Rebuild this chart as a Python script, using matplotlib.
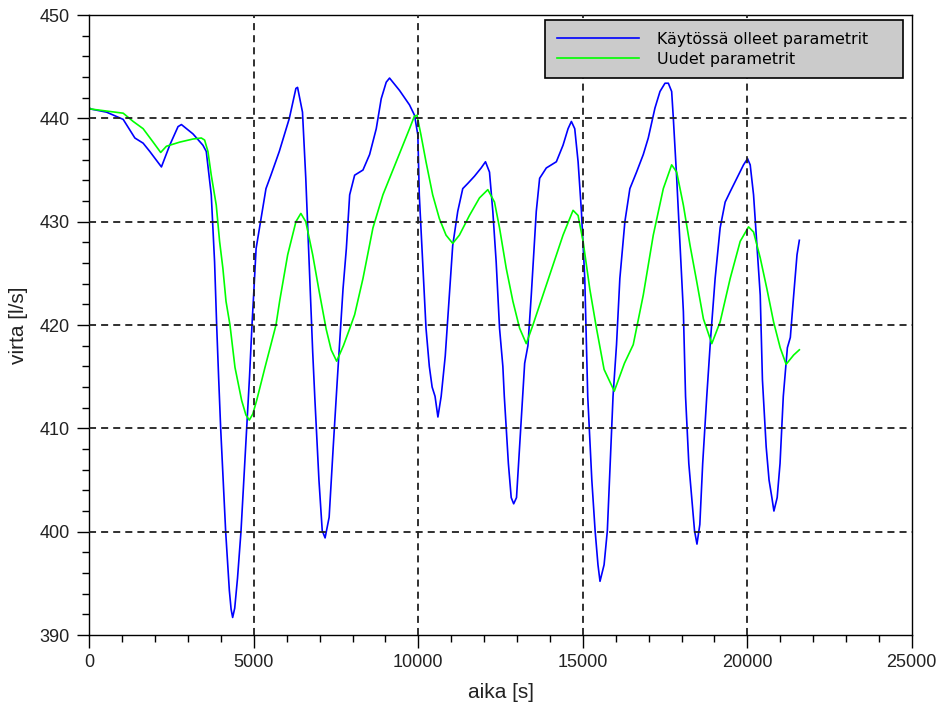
import numpy as np
import matplotlib
matplotlib.use('Agg')
import matplotlib.pyplot as plt
from matplotlib.ticker import MultipleLocator

# virtaus ajan funktiona, käytössä olleet parametrit (sininen)
aika_vanha = [0, 50, 525, 1030, 1385, 1636, 1838, 2192, 2444, 2697, 2800, 3150, 3454, 3555,
              3707, 3808, 3871, 3930, 3993, 4070, 4145, 4257, 4310, 4357, 4420, 4505, 4610,
              4700, 4783, 4870, 4945, 4985, 5070, 5220, 5370, 5520, 5775, 6080, 6280, 6330,
              6480, 6580, 6680, 6790, 6857, 6980, 7080, 7167, 7290, 7414, 7538, 7712, 7813,
              7914, 8065, 8318, 8520, 8722, 8873, 9025, 9126, 9430, 9733, 9885, 9986, 10030,
              10132, 10234, 10335, 10420, 10509, 10596, 10695, 10819, 10945, 11046, 11199,
              11351, 11504, 11707, 11910, 12042, 12164, 12265, 12367, 12469, 12570, 12614,
              12738, 12824, 12899, 12985, 13109, 13233, 13332, 13434, 13586, 13688, 13891,
              14196, 14399, 14552, 14653, 14755, 14857, 14958, 15060, 15150, 15274, 15374,
              15461, 15523, 15647, 15746, 15833, 15919, 16025, 16126, 16279, 16431, 16634,
              16838, 16990, 17193, 17346, 17498, 17600, 17701, 17752, 17854, 17955, 18057,
              18123, 18222, 18309, 18396, 18470, 18557, 18644, 18768, 18880, 19022, 19174,
              19327, 19479, 19682, 19885, 20007, 20088, 20190, 20291, 20393, 20460, 20574,
              20661, 20747, 20809, 20908, 20995, 21094, 21218, 21308, 21410, 21511, 21582]
virta_vanha = [441.0, 440.9, 440.6, 439.9, 438.1, 437.6, 436.8, 435.3, 437.4, 439.2, 439.4,
               438.5, 437.4, 436.8, 432.6, 426.1, 420.0, 415.0, 410.0, 405.0, 400.0, 394.3,
               392.5, 391.7, 392.6, 395.5, 400.0, 405.2, 410.0, 415.0, 420.0, 422.3, 427.4,
               430.3, 433.2, 434.5, 436.8, 440.0, 442.9, 443.0, 440.6, 434.2, 426.1, 417.4,
               412.8, 405.0, 400.1, 399.4, 401.4, 408.2, 414.7, 423.5, 427.4, 432.6, 434.5,
               435.0, 436.5, 439.0, 441.9, 443.5, 443.9, 442.7, 441.3, 440.3, 438.4, 432.6,
               426.1, 419.7, 416.0, 414.0, 413.1, 411.1, 413.1, 417.0, 422.9, 427.7, 431.0,
               433.2, 433.7, 434.4, 435.2, 435.8, 434.8, 431.0, 426.1, 419.7, 416.0, 413.1,
               406.6, 403.3, 402.7, 403.3, 409.8, 416.3, 418.0, 422.9, 431.0, 434.2, 435.2,
               435.8, 437.4, 439.0, 439.7, 439.0, 435.8, 431.0, 424.5, 413.1, 405.0, 400.1,
               396.8, 395.2, 396.8, 400.1, 406.6, 413.1, 418.1, 424.5, 430.0, 433.2, 434.8,
               436.5, 438.1, 441.0, 442.6, 443.4, 443.4, 442.6, 440.0, 434.2, 427.7, 421.3,
               413.1, 406.6, 403.3, 400.1, 398.8, 400.7, 406.6, 413.1, 418.5, 424.5, 429.4,
               431.9, 432.9, 434.2, 435.5, 436.1, 435.5, 432.6, 427.7, 422.9, 414.7, 408.2,
               405.0, 403.3, 402.0, 403.3, 406.6, 413.1, 417.8, 418.8, 422.9, 426.8, 428.2]

# uudet parametrit (vihreä)
aika_uusi = [0, 50, 1030, 1334, 1636, 1940, 2170, 2343, 2748, 3150, 3404, 3505, 3606, 3707,
             3859, 3960, 4060, 4155, 4276, 4428, 4631, 4760, 4863, 4970, 5087, 5340, 5520,
             5674, 5790, 6030, 6280, 6430, 6580, 6790, 6990, 7200, 7352, 7518, 7724, 7909,
             8065, 8318, 8621, 8924, 9329, 9733, 9880, 9960, 10081, 10234, 10437, 10640,
             10843, 11046, 11249, 11554, 11859, 12113, 12316, 12469, 12672, 12875, 13078,
             13281, 13484, 13789, 14094, 14399, 14704, 14857, 15009, 15212, 15415, 15647,
             15957, 16266, 16533, 16838, 17142, 17447, 17701, 17854, 18057, 18260, 18463,
             18666, 18921, 19174, 19479, 19784, 20038, 20190, 20393, 20596, 20799, 21000,
             21180, 21410, 21582]
virta_uusi = [441.0, 440.9, 440.5, 439.7, 439.0, 437.7, 436.7, 437.3, 437.7, 438.0, 438.1,
              437.9, 436.8, 434.5, 431.6, 428.1, 425.5, 422.3, 420.0, 415.9, 412.7, 411.3,
              410.8, 411.4, 412.7, 415.9, 418.1, 420.0, 422.4, 426.8, 430.0, 430.8, 430.0,
              426.8, 423.2, 419.6, 417.6, 416.5, 418.0, 419.6, 421.0, 424.5, 429.4, 432.6,
              435.8, 439.0, 440.2, 440.3, 438.4, 435.8, 432.6, 430.3, 428.7, 427.9, 428.7,
              430.6, 432.3, 433.1, 431.9, 429.4, 425.5, 422.3, 419.7, 418.2, 420.0, 422.9,
              425.8, 428.7, 431.1, 430.6, 428.1, 423.5, 419.7, 415.7, 413.6, 416.3, 418.1,
              422.9, 428.7, 433.2, 435.5, 434.8, 431.6, 427.7, 424.2, 420.6, 418.2, 420.3,
              424.5, 428.1, 429.5, 429.0, 426.5, 423.5, 420.3, 417.8, 416.2, 417.1, 417.6]

x_ticks = [0, 5000, 10000, 15000, 20000, 25000]
y_ticks = [390, 400, 410, 420, 430, 440, 450]

fig = plt.figure(figsize=(9.4, 7.02), dpi=100)
ax = fig.add_axes([0.095, 0.0954, 0.875, 0.8832])

ax.plot(aika_vanha, virta_vanha, color='#0000ff', lw=1.2, label='Käytössä olleet parametrit')
ax.plot(aika_uusi, virta_uusi, color='#00ff00', lw=1.2, label='Uudet parametrit')

ax.set_xlim(0, 25000)
ax.set_ylim(390, 450)
ax.set_xticks(x_ticks)
ax.set_yticks(y_ticks)
ax.xaxis.set_minor_locator(MultipleLocator(1000))
ax.yaxis.set_minor_locator(MultipleLocator(2))

# ruudukko vain sisäpuolisille jakoviivoille
for xv in x_ticks[1:-1]:
    ax.axvline(xv, color='#202020', linestyle=(0, (3.9, 2.8)), lw=1.3, zorder=3)
for yv in y_ticks[1:-1]:
    ax.axhline(yv, color='#202020', linestyle=(0, (3.9, 2.8)), lw=1.3, zorder=3)

for lab in ax.get_xticklabels() + ax.get_yticklabels():
    lab.set_family('Liberation Sans')
    lab.set_color('#222222')
ax.tick_params(which='major', direction='out', length=9, width=1, labelsize=13, pad=5)
ax.tick_params(which='minor', direction='out', length=5, width=1)
ax.tick_params(top=False, right=False, which='both')
for s in ax.spines.values():
    s.set_linewidth(1.0)

ax.set_xlabel('aika [s]', family='Liberation Sans', fontsize=15, color='#222222', labelpad=8)
ax.set_ylabel('virta [l/s]', family='Liberation Sans', fontsize=15, color='#222222', labelpad=8)

leg = ax.legend(loc='upper left', bbox_to_anchor=(0.554, 0.992, 0.435, 0.0), mode='expand',
                fancybox=False, facecolor='#cbcbcb', edgecolor='black', framealpha=1,
                prop={'family': 'DejaVu Sans', 'size': 11.4}, handlelength=5.2,
                handletextpad=1.15, borderaxespad=0, borderpad=0.75, labelspacing=0.3)
leg.get_frame().set_linewidth(1.2)
leg.set_zorder(5)

fig.savefig('out.png', dpi=100)
